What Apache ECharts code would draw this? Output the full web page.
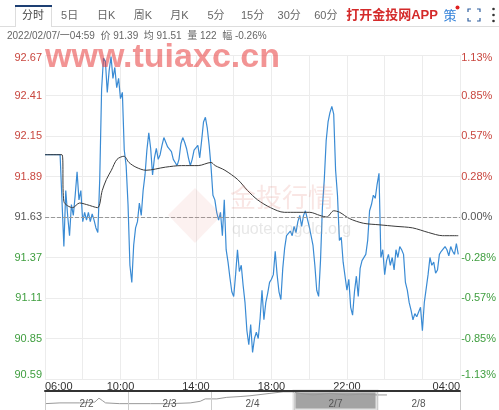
<!DOCTYPE html>
<html>
<head>
<meta charset="utf-8">
<script src="https://cdn.jsdelivr.net/npm/echarts@6/dist/echarts.min.js"></script>
<style>
html, body { margin: 0; padding: 0; background: #fff; }
#chart { width: 499px; height: 410px; }
</style>
</head>
<body>
<div id="chart"></div>
<script>
// 分时 tabs / header
var tabs = ['分时', '5日', '日K', '周K', '月K', '5分', '15分', '30分', '60分'];
var infoText = '2022/02/07/一04:59  价 91.39  均 91.51  量 122  幅 -0.26%';

// x axis (minutes after 06:00)
var stepMin = 6;
var timeLabels = ['06:00', '10:00', '14:00', '18:00', '22:00', '04:00'];

// left / right y axis ticks
var basePrice = 91.63;
var pctLabels = ['-1.13%', '-0.85%', '-0.57%', '-0.28%', '0.00%', '0.28%', '0.57%', '0.85%', '1.13%'];

// price every 6 minutes
var prices = [
    92.03, 92.03, 92.03, 92.03, 92.03, 92.03, 92.03, 92.03, 92.03, 92.03,
    91.44, 91.80, 91.64, 91.51, 91.71, 91.64, 91.77, 91.92, 91.74, 91.80,
    91.60, 91.66, 91.61, 91.66, 91.60, 91.65, 91.61, 91.56, 91.53, 91.87,
    92.45, 92.65, 92.63, 92.43, 92.57, 92.66, 92.52, 92.59, 92.46, 92.52,
    92.39, 92.43, 92.06, 91.96, 91.71, 91.32, 91.21, 91.45, 91.56, 91.60,
    91.72, 91.64, 91.80, 91.90, 92.06, 92.17, 92.07, 91.90, 92.01, 92.07,
    92.00, 92.03, 92.09, 92.14, 92.11, 92.08, 92.09, 92.05, 92.00, 91.98,
    91.96, 92.00, 92.10, 92.14, 92.11, 92.07, 92.01, 91.96, 92.00, 92.06,
    92.05, 92.09, 92.01, 92.12, 92.24, 92.27, 92.20, 92.09, 91.95, 91.77,
    91.74, 91.66, 91.61, 91.66, 91.51, 91.74, 91.42, 91.34, 91.24, 91.15,
    91.12, 91.26, 91.42, 91.28, 91.32, 91.19, 91.08, 90.90, 90.81, 90.94,
    90.76, 90.85, 90.89, 90.85, 90.98, 91.16, 90.97, 91.08, 91.14, 91.21,
    91.23, 91.26, 91.41, 91.26, 91.15, 91.10, 91.30, 91.43, 91.51, 91.50,
    91.54, 91.51, 91.57, 91.53, 91.60, 91.64, 91.57, 91.64, 91.67, 91.62,
    91.57, 91.51, 91.45, 91.32, 91.16, 91.12, 91.35, 91.69, 91.87, 92.12,
    92.24, 92.30, 92.34, 92.29, 91.93, 91.77, 91.48, 91.50, 91.34, 91.34,
    91.16, 91.23, 91.05, 91.00, 91.15, 91.25, 91.12, 91.30, 91.35, 91.34,
    91.39, 91.48, 91.67, 91.71, 91.77, 91.75, 91.84, 91.91, 91.37, 91.42,
    91.26, 91.35, 91.39, 91.32, 91.37, 91.29, 91.42, 91.37, 91.44, 91.42,
    91.39, 91.21, 91.16, 91.08, 91.03, 90.97, 91.01, 90.99, 91.02, 91.05,
    90.90, 91.08, 91.17, 91.26, 91.37, 91.32, 91.34, 91.27, 91.29, 91.39,
    91.41, 91.41, 91.44, 91.42, 91.38, 91.44, 91.41, 91.39, 91.46, 91.39
];

// average price line
var avgMinutes = [0, 54, 60, 88, 110, 132, 167, 182, 195, 211, 229, 251, 267, 289, 321, 383, 434, 487,
    528, 541, 572, 613, 644, 676, 717, 761, 801, 842, 874, 896, 918, 937, 968, 1012, 1062, 1116,
    1169, 1220, 1264, 1314];
var avgPrices = [92.03, 92.03, 91.73, 91.69, 91.72, 91.71, 91.69, 91.80, 91.87, 91.93, 92.00, 92.02,
    91.98, 91.95, 91.93, 91.95, 91.96, 91.96, 91.98, 91.96, 91.93, 91.87, 91.80, 91.74, 91.69, 91.66,
    91.66, 91.66, 91.64, 91.63, 91.67, 91.66, 91.62, 91.59, 91.58, 91.57, 91.56, 91.53, 91.51, 91.51];

// navigator
var days = ['2/2', '2/3', '2/4', '2/7', '2/8'];
var miniDays = [0, 0.18, 0.42, 0.60, 0.65, 0.69, 0.73, 0.90, 1.27, 1.51, 1.75, 1.87, 1.93, 2.07,
    2.19, 2.35, 2.47, 2.71, 2.87, 2.98, 3.07, 3.23, 3.43, 3.64, 3.83, 4.0, 4.12];
var miniValues = [89.67, 89.87, 89.87, 90.08, 91.12, 90.50, 89.87, 89.67, 89.67, 89.67, 89.87, 90.29,
    90.92, 90.92, 91.33, 91.54, 91.75, 92.37, 92.79, 92.79, 92.37, 91.96, 92.37, 91.96, 92.17, 91.96, 91.96];

var RED = '#c9473f';
var GREEN = '#3f9e3f';
var FONT = 'Liberation Sans, Noto Sans CJK SC, sans-serif';

function labelColor(v) {
    var d = Math.round((v - basePrice) * 100);
    if (d > 0) return RED;
    if (d < 0) return GREEN;
    return '#555';
}

function hhmm(m) {
    var t = (360 + m) % 1440;
    var h = Math.floor(t / 60), mm = t % 60;
    return (h < 10 ? '0' : '') + h + ':' + (mm < 10 ? '0' : '') + mm;
}

var myChart = echarts.init(document.getElementById('chart'));

var graphics = [];
// tab bar
graphics.push({ type: 'line', shape: { x1: 0, y1: 26.5, x2: 15, y2: 26.5 }, style: { stroke: '#ddd' } });
graphics.push({ type: 'line', shape: { x1: 52, y1: 26.5, x2: 499, y2: 26.5 }, style: { stroke: '#ddd' } });
graphics.push({ type: 'polyline', shape: { points: [[15.5, 27], [15.5, 6.5], [51.5, 6.5], [51.5, 27]] }, style: { stroke: '#ddd', fill: null } });
graphics.push({ type: 'line', shape: { x1: 15, y1: 6, x2: 52, y2: 6 }, style: { stroke: '#1d3f73', lineWidth: 2 } });
tabs.forEach(function(t, i) {
    graphics.push({
        type: 'text', x: 33 + i * 36.6, y: 16,
        style: { text: t, fill: i === 0 ? '#444' : '#666', font: '11px ' + FONT, align: 'center', verticalAlign: 'middle' }
    });
});
graphics.push({ type: 'text', x: 392, y: 15, style: { text: '打开金投网APP', fill: '#d42a2a', font: 'bold 13px ' + FONT, align: 'center', verticalAlign: 'middle' } });
graphics.push({ type: 'text', x: 450, y: 16, style: { text: '策', fill: '#2f7fd8', font: '13px ' + FONT, align: 'center', verticalAlign: 'middle' } });
graphics.push({ type: 'circle', shape: { cx: 457.5, cy: 7.5, r: 2 }, style: { fill: '#e02020' } });
var fs = [[[468, 12], [468, 9], [471, 9]], [[477, 9], [480, 9], [480, 12]], [[468, 18], [468, 21], [471, 21]], [[477, 21], [480, 21], [480, 18]]];
fs.forEach(function(p) {
    graphics.push({ type: 'polyline', shape: { points: p }, style: { stroke: '#2f5f9f', lineWidth: 1.2, fill: null } });
});
[9, 15, 21].forEach(function(y) {
    graphics.push({ type: 'circle', shape: { cx: 493.5, cy: y, r: 1.3 }, style: { fill: '#333' } });
});
// info line
graphics.push({ type: 'text', x: 7, y: 36, style: { text: infoText, fill: '#666', font: '10px ' + FONT, verticalAlign: 'middle' } });
// watermarks
graphics.push({ type: 'polygon', shape: { points: [[195, 188], [222, 215], [195, 243], [168, 215]] }, style: { fill: 'rgba(230,140,130,0.12)' }, z: 50 });
graphics.push({ type: 'text', x: 230, y: 200, style: { text: '金投行情', fill: 'rgba(225,130,120,0.2)', font: '26px ' + FONT, verticalAlign: 'middle' }, z: 50 });
graphics.push({ type: 'text', x: 232, y: 230, style: { text: 'quote.cngold.org', fill: 'rgba(170,170,170,0.28)', font: '16px ' + FONT, verticalAlign: 'middle' }, z: 50 });
graphics.push({ type: 'text', x: 45, y: 58, style: { text: 'www.tuiaxc.cn', fill: 'rgba(232,60,60,0.55)', font: 'bold 34px ' + FONT, verticalAlign: 'middle' }, z: 100 });

function edgeFormatter(fn) {
    return function(v, i) {
        var s = fn(v, i);
        if (i === 0) return '{b|' + s + '}';
        if (i === 8) return '{t|' + s + '}';
        return s;
    };
}

let option = {
    animation: false,
    backgroundColor: '#fff',
    textStyle: { fontFamily: FONT },
    graphic: graphics,
    grid: [
        { left: 45, right: 36, top: 55, bottom: 31 },
        { left: 45, right: 39, top: 391, height: 25 }
    ],
    xAxis: [{
        gridIndex: 0,
        type: 'value',
        min: 0,
        max: 1320,
        interval: 120,
        axisLine: { show: false },
        axisTick: { show: false },
        splitLine: { lineStyle: { color: '#ececec' } },
        axisLabel: {
            margin: 2,
            fontSize: 11,
            color: '#333',
            showMinLabel: true,
            showMaxLabel: true,
            alignMinLabel: 'left',
            alignMaxLabel: 'right',
            formatter: function(v) {
                var s = hhmm(v);
                return timeLabels.indexOf(s) >= 0 ? s : '';
            }
        }
    }, {
        gridIndex: 1,
        type: 'category',
        position: 'top',
        data: days,
        z: 10,
        axisLine: { lineStyle: { color: '#333', width: 2 } },
        axisTick: { show: false },
        splitLine: { show: true, interval: 0, lineStyle: { color: '#ccc' } },
        axisLabel: { inside: true, margin: 8, fontSize: 10, color: '#555', interval: 0 }
    }, {
        gridIndex: 1,
        type: 'value',
        min: 0,
        max: 5,
        show: false
    }],
    yAxis: [{
        gridIndex: 0,
        type: 'value',
        min: 90.59,
        max: 92.67,
        interval: 0.26,
        axisLine: { show: false },
        axisTick: { show: false },
        splitLine: { lineStyle: { color: '#ececec' } },
        axisLabel: {
            margin: 3,
            fontSize: 11,
            color: function(v) { return labelColor(v); },
            formatter: edgeFormatter(function(v) { return v.toFixed(2); }),
            rich: { t: { padding: [6, 0, 0, 0] }, b: { padding: [0, 0, 8, 0] } }
        }
    }, {
        gridIndex: 0,
        type: 'value',
        position: 'right',
        min: 90.59,
        max: 92.67,
        interval: 0.26,
        axisLine: { show: false },
        axisTick: { show: false },
        splitLine: { show: false },
        axisLabel: {
            margin: 1,
            fontSize: 11,
            color: function(v) { return labelColor(v); },
            formatter: edgeFormatter(function(v, i) { return pctLabels[i]; }),
            rich: { t: { padding: [6, 0, 0, 0] }, b: { padding: [0, 0, 8, 0] } }
        }
    }, {
        gridIndex: 1,
        type: 'value',
        min: 88,
        max: 93,
        show: false
    }],
    series: [{
        name: '价',
        type: 'line',
        xAxisIndex: 0,
        yAxisIndex: 0,
        data: prices.map(function(p, i) { return [i * stepMin, p]; }),
        showSymbol: false,
        lineStyle: { color: '#3a8bd4', width: 1.2 },
        itemStyle: { color: '#3a8bd4' },
        markLine: {
            silent: true,
            symbol: 'none',
            label: { show: false },
            lineStyle: { color: '#999', type: 'dashed', width: 1 },
            data: [{ yAxis: basePrice }]
        }
    }, {
        name: '均',
        type: 'line',
        xAxisIndex: 0,
        yAxisIndex: 0,
        data: avgMinutes.map(function(m, i) { return [m, avgPrices[i]]; }),
        showSymbol: false,
        smooth: 0.3,
        lineStyle: { color: '#3a3a3a', width: 1 },
        itemStyle: { color: '#3a3a3a' }
    }, {
        name: 'nav',
        type: 'line',
        xAxisIndex: 2,
        yAxisIndex: 2,
        z: 1,
        data: miniDays.map(function(d, i) { return [d, miniValues[i]]; }),
        showSymbol: false,
        lineStyle: { color: '#999', width: 1 },
        markArea: {
            silent: true,
            itemStyle: { color: '#a3a3a3', borderColor: '#e2e2e2', borderWidth: 3 },
            data: [[{ xAxis: 3 }, { xAxis: 4 }]]
        }
    }]
};
myChart.setOption(option);
</script>
</body>
</html>
